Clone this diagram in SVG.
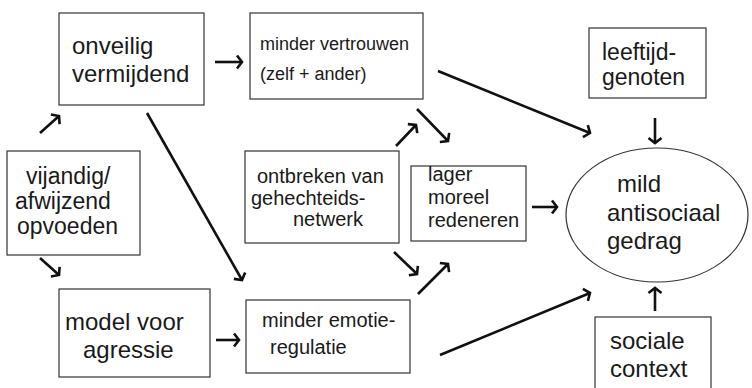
<svg xmlns="http://www.w3.org/2000/svg" width="752" height="388" viewBox="0 0 752 388">
<style>
.box{fill:none;stroke:#333;stroke-width:1.2}
.t{font-family:"Liberation Sans",Arial,Helvetica,sans-serif;fill:#1a1a1a}
.l{font-size:24px}
.k{font-size:23px}
.m{font-size:20px}
.s{font-size:18px}
.c line{stroke:#111;stroke-width:2.6;marker-end:url(#ah)}
</style>
<defs>
<marker id="ah" markerUnits="userSpaceOnUse" viewBox="-10 -10 20 20" markerWidth="20" markerHeight="20" refX="0" refY="0" orient="auto">
<polyline points="-5,-6.5 0,0 -5,6.5" fill="none" stroke="#111" stroke-width="2.6" stroke-linejoin="miter"/>
</marker>
</defs>
<rect width="752" height="388" fill="#fff"/>
<g id="onveilig">
<rect class="box" x="59" y="13" width="145" height="92"/>
<text class="t l" x="72" y="54">onveilig</text>
<text class="t l" x="72" y="82">vermijdend</text>
</g>
<g id="vertrouwen">
<rect class="box" x="250" y="13" width="173" height="86"/>
<text class="t s" x="260" y="50">minder vertrouwen</text>
<text class="t s" x="260" y="80">(zelf + ander)</text>
</g>
<g id="leeftijdgenoten">
<rect class="box" x="589" y="28" width="117" height="70"/>
<text class="t k" x="602" y="60">leeftijd-</text>
<text class="t k" x="602" y="85">genoten</text>
</g>
<g id="vijandig">
<rect class="box" x="7" y="151" width="133" height="104"/>
<text class="t k" x="26" y="184">vijandig/</text>
<text class="t k" x="15" y="209">afwijzend</text>
<text class="t k" x="17" y="234">opvoeden</text>
</g>
<g id="ontbreken">
<rect class="box" x="245" y="151" width="154" height="92"/>
<text class="t m" x="257" y="183">ontbreken van</text>
<text class="t m" x="251" y="205">gehechteids-</text>
<text class="t m" x="293" y="226">netwerk</text>
</g>
<g id="lager">
<rect class="box" x="411" y="166" width="115" height="75"/>
<text class="t m" x="428" y="181">lager</text>
<text class="t m" x="428" y="204">moreel</text>
<text class="t m" x="428" y="227">redeneren</text>
</g>
<g id="gedrag">
<ellipse class="box" cx="657" cy="215" rx="91" ry="67"/>
<text class="t l" x="617" y="192">mild</text>
<text class="t l" x="607" y="221">antisociaal</text>
<text class="t l" x="607" y="249">gedrag</text>
</g>
<g id="model">
<rect class="box" x="59" y="289" width="151" height="88"/>
<text class="t l" x="65" y="330">model voor</text>
<text class="t l" x="83" y="358">agressie</text>
</g>
<g id="emotie">
<rect class="box" x="246" y="300" width="164" height="73"/>
<text class="t m" x="262" y="327">minder emotie-</text>
<text class="t m" x="270" y="354">regulatie</text>
</g>
<g id="sociale">
<rect class="box" x="595" y="317" width="116" height="80"/>
<text class="t l" x="610" y="349">sociale</text>
<text class="t l" x="610" y="377">context</text>
</g>
<g id="connectors" class="c">
<line x1="215" y1="62" x2="242" y2="62"/>
<line x1="40" y1="133" x2="59" y2="116"/>
<line x1="40" y1="258" x2="59" y2="275"/>
<line x1="147" y1="113" x2="242" y2="280"/>
<line x1="216" y1="340" x2="239" y2="340"/>
<line x1="417" y1="109" x2="448" y2="141"/>
<line x1="396" y1="146" x2="416" y2="125"/>
<line x1="394" y1="252" x2="417" y2="274"/>
<line x1="418" y1="294" x2="448" y2="264"/>
<line x1="438" y1="71" x2="590" y2="133"/>
<line x1="440" y1="355" x2="590" y2="293"/>
<line x1="532" y1="207" x2="557" y2="207"/>
<line x1="655" y1="118" x2="655" y2="143"/>
<line x1="655" y1="311" x2="655" y2="288"/>
</g>
</svg>
